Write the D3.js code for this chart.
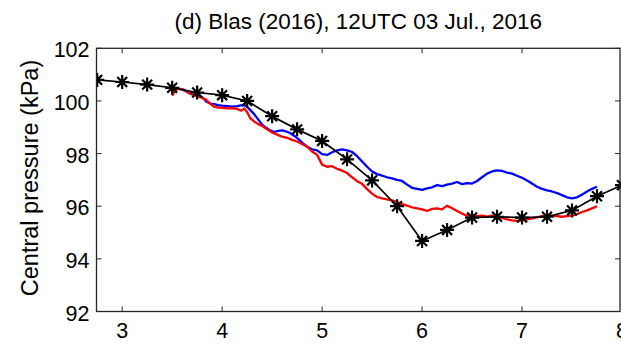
<!DOCTYPE html>
<html>
<head>
<meta charset="utf-8">
<script src="https://d3js.org/d3.v7.min.js"></script>
<style>
  body { margin: 0; background: #fff; }
  text { font-family: "Liberation Sans", Arial, sans-serif; fill: #000; }
</style>
</head>
<body>
<script>
// best track (black, with asterisks)
var bestT = [2.75, 3.0, 3.25, 3.5, 3.75, 4.0, 4.25, 4.5, 4.75, 5.0, 5.25, 5.5, 5.75, 6.0, 6.25, 6.5, 6.75, 7.0, 7.25, 7.5, 7.75, 8.0];
var bestP = [100.8, 100.72, 100.62, 100.5, 100.32, 100.22, 100.0, 99.42, 98.92, 98.48, 97.78, 96.98, 96.0, 94.68, 95.1, 95.57, 95.6, 95.57, 95.6, 95.84, 96.38, 96.8];

// red run
var redT = [3.50, 3.53, 3.56, 3.60, 3.64, 3.68, 3.72, 3.76, 3.80, 3.84, 3.88, 3.92, 3.96, 4.00, 4.05, 4.10, 4.15, 4.19, 4.22, 4.25, 4.28, 4.32, 4.36, 4.40, 4.45, 4.50, 4.55, 4.60, 4.65, 4.70, 4.75, 4.80, 4.85, 4.90, 4.95, 5.00, 5.05, 5.10, 5.15, 5.20, 5.25, 5.30, 5.35, 5.40, 5.45, 5.50, 5.55, 5.60, 5.65, 5.70, 5.75, 5.80, 5.85, 5.90, 5.95, 6.00, 6.05, 6.10, 6.15, 6.20, 6.25, 6.30, 6.35, 6.40, 6.45, 6.50, 6.55, 6.60, 6.65, 6.70, 6.75, 6.80, 6.85, 6.90, 6.95, 7.00, 7.05, 7.10, 7.15, 7.20, 7.25, 7.30, 7.35, 7.40, 7.45, 7.50, 7.55, 7.60, 7.65, 7.70, 7.75];
var redP = [100.20, 100.40, 100.47, 100.45, 100.38, 100.28, 100.22, 100.16, 100.12, 100.04, 99.90, 99.78, 99.75, 99.74, 99.72, 99.73, 99.70, 99.63, 99.71, 99.58, 99.35, 99.22, 99.12, 99.05, 98.92, 98.80, 98.72, 98.64, 98.60, 98.52, 98.46, 98.36, 98.26, 98.08, 97.95, 97.58, 97.50, 97.52, 97.42, 97.35, 97.26, 97.10, 96.95, 96.85, 96.65, 96.48, 96.35, 96.30, 96.26, 96.22, 96.16, 96.08, 96.02, 95.96, 95.92, 95.88, 95.82, 95.90, 95.92, 95.88, 96.02, 95.92, 95.82, 95.72, 95.64, 95.66, 95.62, 95.64, 95.60, 95.64, 95.60, 95.56, 95.50, 95.46, 95.44, 95.46, 95.50, 95.54, 95.58, 95.62, 95.66, 95.64, 95.62, 95.60, 95.62, 95.64, 95.70, 95.78, 95.84, 95.92, 96.00];

// blue run
var blueT = [3.56, 3.60, 3.64, 3.68, 3.72, 3.76, 3.80, 3.84, 3.88, 3.92, 3.96, 4.00, 4.05, 4.10, 4.15, 4.20, 4.24, 4.28, 4.32, 4.36, 4.40, 4.44, 4.48, 4.52, 4.56, 4.60, 4.64, 4.68, 4.72, 4.76, 4.80, 4.85, 4.90, 4.95, 5.00, 5.05, 5.10, 5.15, 5.20, 5.25, 5.30, 5.35, 5.40, 5.45, 5.50, 5.55, 5.60, 5.65, 5.70, 5.75, 5.80, 5.85, 5.90, 5.95, 6.00, 6.05, 6.10, 6.15, 6.20, 6.25, 6.30, 6.35, 6.40, 6.45, 6.50, 6.55, 6.60, 6.65, 6.70, 6.75, 6.80, 6.85, 6.90, 6.95, 7.00, 7.05, 7.10, 7.15, 7.20, 7.25, 7.30, 7.35, 7.40, 7.45, 7.50, 7.55, 7.60, 7.65, 7.70, 7.75];
var blueP = [100.46, 100.44, 100.36, 100.28, 100.24, 100.22, 100.14, 99.98, 99.90, 99.88, 99.84, 99.82, 99.80, 99.78, 99.80, 99.84, 99.82, 99.66, 99.50, 99.30, 99.10, 98.98, 98.88, 98.82, 98.86, 98.88, 98.84, 98.78, 98.68, 98.56, 98.42, 98.26, 98.16, 98.12, 97.98, 97.95, 98.05, 98.12, 98.16, 98.12, 98.06, 97.90, 97.70, 97.50, 97.32, 97.22, 97.16, 97.10, 97.06, 97.00, 96.96, 96.82, 96.70, 96.66, 96.62, 96.68, 96.72, 96.80, 96.76, 96.82, 96.86, 96.92, 96.84, 96.88, 96.86, 96.96, 97.10, 97.24, 97.32, 97.36, 97.34, 97.28, 97.24, 97.16, 97.08, 96.98, 96.86, 96.74, 96.66, 96.60, 96.56, 96.50, 96.42, 96.34, 96.30, 96.34, 96.44, 96.56, 96.66, 96.74];

var xTicks = [3, 4, 5, 6, 7, 8];
var yTicks = [92, 94, 96, 98, 100, 102];

var W = 621, H = 347;
var m = { left: 96.5, right: 620, top: 48.3, bottom: 311.5 };

var svg = d3.select('body').append('svg')
    .attr('width', W)
    .attr('height', H);

var x = d3.scaleLinear().domain([2.743, 7.98]).range([m.left, m.right]);
var y = d3.scaleLinear().domain([92, 102]).range([m.bottom, m.top]);

// clip to the axes box
svg.append('clipPath').attr('id', 'clip')
    .append('rect')
    .attr('x', m.left).attr('y', m.top)
    .attr('width', m.right - m.left + 4).attr('height', m.bottom - m.top);

var line = d3.line()
    .x(function(d) { return x(d[0]); })
    .y(function(d) { return y(d[1]); });

var lines = svg.append('g').attr('clip-path', 'url(#clip)');

lines.append('path')
    .datum(d3.zip(blueT, blueP))
    .attr('d', line)
    .attr('fill', 'none')
    .attr('stroke', '#0000ff')
    .attr('stroke-width', 2.3)
    .attr('stroke-linejoin', 'round');

lines.append('path')
    .datum(d3.zip(redT, redP))
    .attr('d', line)
    .attr('fill', 'none')
    .attr('stroke', '#ff0000')
    .attr('stroke-width', 2.3)
    .attr('stroke-linejoin', 'round');

var best = d3.zip(bestT, bestP);
lines.append('path')
    .datum(best)
    .attr('d', line)
    .attr('fill', 'none')
    .attr('stroke', '#000')
    .attr('stroke-width', 1.7);

// asterisk markers
var r = 7, r2 = r * 0.7071;
var star = 'M' + (-r) + ',0L' + r + ',0M0,' + (-r) + 'L0,' + r +
    'M' + (-r2) + ',' + (-r2) + 'L' + r2 + ',' + r2 +
    'M' + (-r2) + ',' + r2 + 'L' + r2 + ',' + (-r2);

lines.selectAll('.mk')
    .data(best)
    .enter().append('path')
        .attr('class', 'mk')
        .attr('transform', function(d) { return 'translate(' + x(d[0]) + ',' + y(d[1]) + ')'; })
        .attr('d', star)
        .attr('stroke', '#000')
        .attr('stroke-width', 2.2);

// axes (MATLAB-style box with inward ticks)
var ax = svg.append('g');
var tk = 5;

ax.append('rect')
    .attr('x', m.left).attr('y', m.top)
    .attr('width', m.right - m.left).attr('height', m.bottom - m.top)
    .attr('fill', 'none')
    .attr('stroke', '#262626')
    .attr('stroke-width', 1.3);

xTicks.forEach(function(v) {
    var px = x(v);
    ax.append('line').attr('x1', px).attr('x2', px).attr('y1', m.bottom).attr('y2', m.bottom - tk)
        .attr('stroke', '#262626').attr('stroke-width', 1);
    ax.append('line').attr('x1', px).attr('x2', px).attr('y1', m.top).attr('y2', m.top + tk)
        .attr('stroke', '#262626').attr('stroke-width', 1);
    ax.append('text')
        .attr('x', px).attr('y', 338)
        .attr('text-anchor', 'middle')
        .style('font-size', '21.5px')
        .text(v);
});

yTicks.forEach(function(v) {
    var py = y(v);
    ax.append('line').attr('x1', m.left).attr('x2', m.left + tk).attr('y1', py).attr('y2', py)
        .attr('stroke', '#262626').attr('stroke-width', 1);
    ax.append('line').attr('x1', m.right).attr('x2', m.right - tk).attr('y1', py).attr('y2', py)
        .attr('stroke', '#262626').attr('stroke-width', 1);
    ax.append('text')
        .attr('x', m.left - 7).attr('y', py + 9)
        .attr('text-anchor', 'end')
        .style('font-size', '21.5px')
        .text(v);
});

svg.append('text')
    .attr('transform', 'translate(37.5,178) rotate(-90)')
    .attr('text-anchor', 'middle')
    .style('font-size', '23.5px')
    .text('Central pressure (kPa)');

svg.append('text')
    .attr('x', (m.left + m.right) / 2).attr('y', 29)
    .attr('text-anchor', 'middle')
    .style('font-size', '22.5px')
    .text('(d) Blas (2016), 12UTC 03 Jul., 2016');
</script>
</body>
</html>
